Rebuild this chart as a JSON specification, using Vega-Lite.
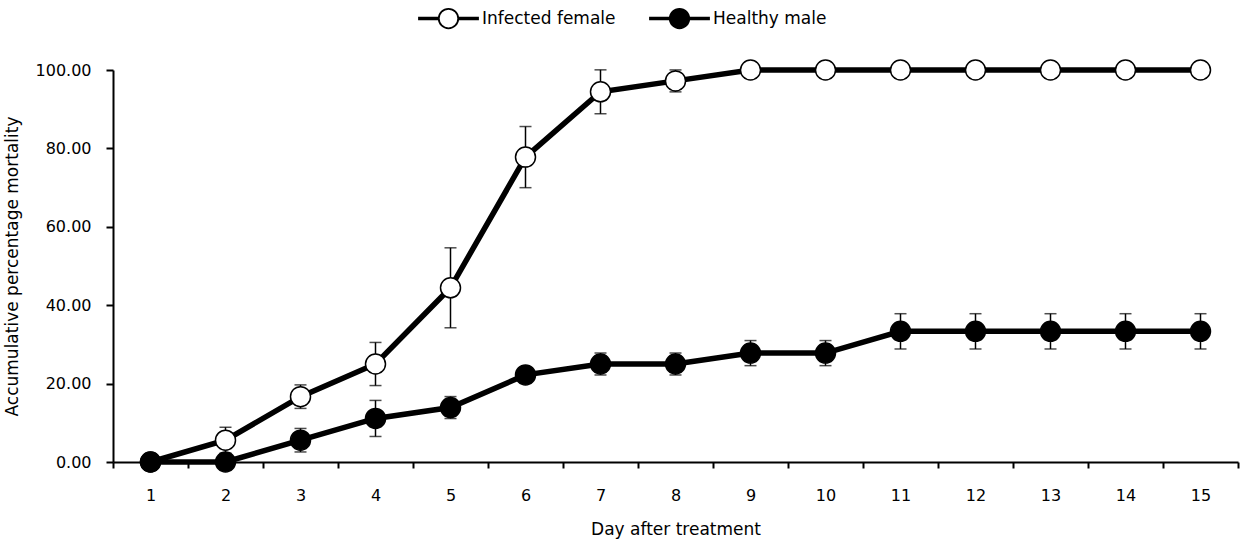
{
  "$schema": "https://vega.github.io/schema/vega-lite/v6.json",
  "autosize": "none",
  "width": 1125,
  "height": 392,
  "padding": {"left": 113, "top": 70, "right": 10, "bottom": 82},
  "background": "white",
  "config": {
    "font": "DejaVu Sans",
    "view": {"stroke": null},
    "axis": {"domainColor": "black", "domainWidth": 2, "tickColor": "black", "tickWidth": 2, "labelColor": "black", "titleColor": "black", "grid": false, "labelFontWeight": "normal", "titleFontWeight": "normal"}
  },
  "data": {
    "values": [
      {"day": 1, "series": "Infected female", "value": 0, "err": 0},
      {"day": 2, "series": "Infected female", "value": 5.56, "err": 3.3},
      {"day": 3, "series": "Infected female", "value": 16.67, "err": 3.0},
      {"day": 4, "series": "Infected female", "value": 25.0, "err": 5.5},
      {"day": 5, "series": "Infected female", "value": 44.44, "err": 10.2},
      {"day": 6, "series": "Infected female", "value": 77.78, "err": 7.8},
      {"day": 7, "series": "Infected female", "value": 94.44, "err": 5.6},
      {"day": 8, "series": "Infected female", "value": 97.22, "err": 2.8},
      {"day": 9, "series": "Infected female", "value": 100, "err": 0},
      {"day": 10, "series": "Infected female", "value": 100, "err": 0},
      {"day": 11, "series": "Infected female", "value": 100, "err": 0},
      {"day": 12, "series": "Infected female", "value": 100, "err": 0},
      {"day": 13, "series": "Infected female", "value": 100, "err": 0},
      {"day": 14, "series": "Infected female", "value": 100, "err": 0},
      {"day": 15, "series": "Infected female", "value": 100, "err": 0},
      {"day": 1, "series": "Healthy male", "value": 0, "err": 0},
      {"day": 2, "series": "Healthy male", "value": 0, "err": 0},
      {"day": 3, "series": "Healthy male", "value": 5.56, "err": 3.0},
      {"day": 4, "series": "Healthy male", "value": 11.11, "err": 4.6},
      {"day": 5, "series": "Healthy male", "value": 13.89, "err": 2.8},
      {"day": 6, "series": "Healthy male", "value": 22.22, "err": 0},
      {"day": 7, "series": "Healthy male", "value": 25.0, "err": 2.8},
      {"day": 8, "series": "Healthy male", "value": 25.0, "err": 2.8},
      {"day": 9, "series": "Healthy male", "value": 27.78, "err": 3.2},
      {"day": 10, "series": "Healthy male", "value": 27.78, "err": 3.2},
      {"day": 11, "series": "Healthy male", "value": 33.33, "err": 4.5},
      {"day": 12, "series": "Healthy male", "value": 33.33, "err": 4.5},
      {"day": 13, "series": "Healthy male", "value": 33.33, "err": 4.5},
      {"day": 14, "series": "Healthy male", "value": 33.33, "err": 4.5},
      {"day": 15, "series": "Healthy male", "value": 33.33, "err": 4.5}
    ]
  },
  "encoding": {
    "x": {
      "field": "day", "type": "ordinal",
      "scale": {"type": "band", "paddingInner": 0, "paddingOuter": 0},
      "axis": {"title": "Day after treatment", "labelAngle": 0, "tickBand": "extent", "tickSize": 6, "labelPadding": 19, "labelFontSize": 16, "titleFontSize": 17, "titlePadding": 18}
    },
    "y": {
      "field": "value", "type": "quantitative",
      "scale": {"domain": [0, 100], "nice": false},
      "axis": {"title": "Accumulative percentage mortality", "values": [0, 20, 40, 60, 80, 100], "format": ".2f", "tickSize": 7, "labelPadding": 15, "labelFontSize": 16, "titleFontSize": 17, "titlePadding": 14}
    }
  },
  "layer": [
    {
      "transform": [{"filter": "datum.err > 0"}],
      "mark": {"type": "errorbar", "color": "black", "ticks": {"size": 12, "thickness": 1.5, "color": "black"}, "rule": {"strokeWidth": 1.5, "color": "black"}},
      "encoding": {
        "yError": {"field": "err"}
      }
    },
    {
      "mark": {"type": "line", "color": "black", "strokeWidth": 5.5},
      "encoding": {
        "detail": {"field": "series"}
      }
    },
    {
      "mark": {"type": "point", "shape": "circle", "filled": true, "size": 400, "stroke": "black", "strokeWidth": 1.5, "opacity": 1},
      "encoding": {
        "fill": {
          "field": "series", "type": "nominal",
          "scale": {"domain": ["Infected female", "Healthy male"], "range": ["white", "black"]},
          "legend": {
            "title": null, "orient": "none", "direction": "horizontal", "legendX": 305, "legendY": -82,
            "symbolType": "M-1,-0.03L-0.33,-0.03L-0.33,0.03L-1,0.03Z M0.33,-0.03L1,-0.03L1,0.03L0.33,0.03Z M0.33,0A0.33,0.33,0,1,1,-0.33,0A0.33,0.33,0,1,1,0.33,0Z",
            "symbolSize": 3481, "symbolStrokeColor": "black", "symbolStrokeWidth": 1.8, "symbolOpacity": 1,
            "labelOffset": 3, "labelFontSize": 17, "labelColor": "black", "columnPadding": 30
          }
        }
      }
    }
  ]
}
